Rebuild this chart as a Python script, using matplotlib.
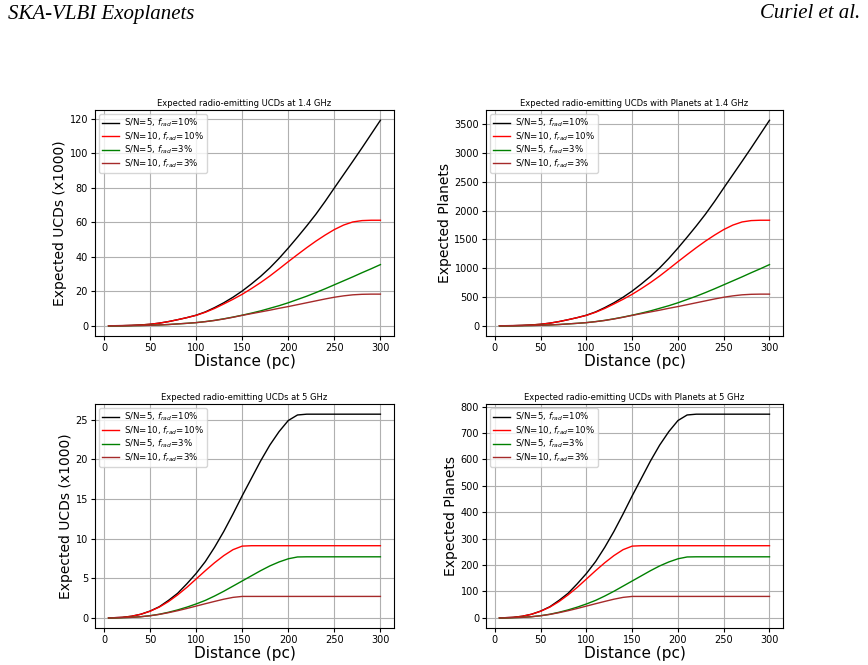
import matplotlib
matplotlib.use("Agg")
import matplotlib.pyplot as plt

distance = [5, 10, 20, 30, 40, 50, 60, 70, 80, 90, 100, 110, 120, 130, 140, 150,
            160, 170, 180, 190, 200, 210, 220, 230, 240, 250, 260, 270, 280, 290, 300]

# 1.4 GHz, UCDs (x1000)
ucd14_sn5_f10 = [0.0, 0.01, 0.06, 0.2, 0.45, 0.85, 1.5, 2.4, 3.5, 4.7, 6.1, 8.0, 10.5, 13.3, 16.5, 20.1,
                 24.2, 28.6, 33.5, 39.0, 45.0, 51.3, 57.8, 64.6, 72.0, 79.8, 87.5, 95.2, 103.0, 111.0, 119.0]
ucd14_sn10_f10 = [0.0, 0.01, 0.06, 0.2, 0.45, 0.85, 1.5, 2.4, 3.5, 4.7, 6.0, 7.8, 10.0, 12.6, 15.3, 18.2,
                  21.5, 25.0, 28.8, 32.9, 37.1, 41.2, 45.2, 49.0, 52.5, 55.7, 58.3, 60.1, 60.9, 61.1, 61.1]
ucd14_sn5_f3 = [0.0, 0.0, 0.02, 0.06, 0.14, 0.26, 0.45, 0.7, 1.05, 1.4, 1.8, 2.4, 3.1, 4.0, 5.0, 6.1,
                7.3, 8.6, 10.1, 11.6, 13.3, 15.2, 17.1, 19.2, 21.4, 23.7, 26.0, 28.3, 30.7, 33.0, 35.4]
ucd14_sn10_f3 = [0.0, 0.0, 0.02, 0.06, 0.14, 0.26, 0.45, 0.7, 1.05, 1.4, 1.8, 2.35, 3.05, 3.9, 4.9, 6.0,
                 7.0, 8.0, 9.0, 10.1, 11.1, 12.2, 13.3, 14.4, 15.5, 16.5, 17.3, 17.9, 18.2, 18.3, 18.3]

# 1.4 GHz, planets
pl14_sn5_f10 = [0, 0.3, 1.8, 6, 13.5, 25.5, 45, 72, 105, 141, 183, 240, 315, 399, 495, 603,
                726, 858, 1005, 1170, 1350, 1539, 1734, 1938, 2160, 2394, 2625, 2856, 3090, 3330, 3570]
pl14_sn10_f10 = [0, 0.3, 1.8, 6, 13.5, 25.5, 45, 72, 105, 141, 180, 234, 300, 378, 459, 546,
                 645, 750, 864, 987, 1113, 1236, 1356, 1470, 1575, 1671, 1749, 1803, 1827, 1833, 1833]
pl14_sn5_f3 = [0, 0, 0.6, 1.8, 4.2, 7.8, 13.5, 21, 31.5, 42, 54, 72, 93, 120, 150, 183,
               219, 258, 303, 348, 399, 456, 513, 576, 642, 711, 780, 849, 921, 990, 1062]
pl14_sn10_f3 = [0, 0, 0.6, 1.8, 4.2, 7.8, 13.5, 21, 31.5, 42, 54, 70.5, 91.5, 117, 147, 180,
                210, 240, 270, 303, 333, 366, 399, 432, 465, 495, 519, 537, 546, 549, 549]

# 5 GHz, UCDs (x1000)
ucd5_sn5_f10 = [0.0, 0.01, 0.06, 0.2, 0.45, 0.85, 1.4, 2.2, 3.1, 4.3, 5.6, 7.1, 8.9, 10.9, 13.1, 15.4,
                17.6, 19.8, 21.8, 23.5, 24.9, 25.6, 25.7, 25.7, 25.7, 25.7, 25.7, 25.7, 25.7, 25.7, 25.7]
ucd5_sn10_f10 = [0.0, 0.01, 0.06, 0.2, 0.45, 0.83, 1.35, 2.05, 2.9, 3.85, 4.9, 5.95, 6.95, 7.85, 8.6, 9.05,
                 9.1, 9.1, 9.1, 9.1, 9.1, 9.1, 9.1, 9.1, 9.1, 9.1, 9.1, 9.1, 9.1, 9.1, 9.1]
ucd5_sn5_f3 = [0.0, 0.0, 0.02, 0.06, 0.14, 0.27, 0.45, 0.7, 1.0, 1.35, 1.75, 2.2, 2.75, 3.35, 4.0, 4.65,
               5.3, 5.95, 6.55, 7.05, 7.45, 7.68, 7.7, 7.7, 7.7, 7.7, 7.7, 7.7, 7.7, 7.7, 7.7]
ucd5_sn10_f3 = [0.0, 0.0, 0.02, 0.06, 0.14, 0.26, 0.43, 0.65, 0.9, 1.18, 1.48, 1.78, 2.07, 2.35, 2.58, 2.7,
                2.7, 2.7, 2.7, 2.7, 2.7, 2.7, 2.7, 2.7, 2.7, 2.7, 2.7, 2.7, 2.7, 2.7, 2.7]

# 5 GHz, planets
pl5_sn5_f10 = [0, 0.3, 1.8, 6, 13.5, 25.5, 42, 66, 93, 129, 168, 213, 267, 327, 393, 462,
               528, 594, 654, 705, 747, 768, 771, 771, 771, 771, 771, 771, 771, 771, 771]
pl5_sn10_f10 = [0, 0.3, 1.8, 6, 13.5, 24.9, 40.5, 61.5, 87, 115.5, 147, 178.5, 208.5, 235.5, 258, 271.5,
                273, 273, 273, 273, 273, 273, 273, 273, 273, 273, 273, 273, 273, 273, 273]
pl5_sn5_f3 = [0, 0, 0.6, 1.8, 4.2, 8.1, 13.5, 21, 30, 40.5, 52.5, 66, 82.5, 100.5, 120, 139.5,
              159, 178.5, 196.5, 211.5, 223.5, 230.4, 231, 231, 231, 231, 231, 231, 231, 231, 231]
pl5_sn10_f3 = [0, 0, 0.6, 1.8, 4.2, 7.8, 12.9, 19.5, 27, 35.4, 44.4, 53.4, 62.1, 70.5, 77.4, 81,
               81, 81, 81, 81, 81, 81, 81, 81, 81, 81, 81, 81, 81, 81, 81]

labels = [r'S/N=5, $f_{rad}$=10%', r'S/N=10, $f_{rad}$=10%',
          r'S/N=5, $f_{rad}$=3%', r'S/N=10, $f_{rad}$=3%']
colors = ['black', 'red', 'green', 'brown']

panels = [
    ("Expected radio-emitting UCDs at 1.4 GHz", "Expected UCDs (x1000)",
     [ucd14_sn5_f10, ucd14_sn10_f10, ucd14_sn5_f3, ucd14_sn10_f3], 20),
    ("Expected radio-emitting UCDs with Planets at 1.4 GHz", "Expected Planets",
     [pl14_sn5_f10, pl14_sn10_f10, pl14_sn5_f3, pl14_sn10_f3], 500),
    ("Expected radio-emitting UCDs at 5 GHz", "Expected UCDs (x1000)",
     [ucd5_sn5_f10, ucd5_sn10_f10, ucd5_sn5_f3, ucd5_sn10_f3], 5),
    ("Expected radio-emitting UCDs with Planets at 5 GHz", "Expected Planets",
     [pl5_sn5_f10, pl5_sn10_f10, pl5_sn5_f3, pl5_sn10_f3], 100),
]

W, H = 868, 665
fig = plt.figure(figsize=(W / 100, H / 100), dpi=100)

boxes = [(95, 110, 394, 336), (486, 110, 783, 336),
         (95, 404, 394, 628), (486, 404, 783, 628)]

for (title, ylabel, series, ystep), (l, t, r, b) in zip(panels, boxes):
    ax = fig.add_axes([l / W, 1 - b / H, (r - l) / W, (b - t) / H])
    for ys, c, lab in zip(series, colors, labels):
        ax.plot(distance, ys, color=c, lw=1.0, label=lab)
    ax.set_title(title, fontsize=6.0, pad=3)
    ax.set_ylabel(ylabel, fontsize=10, labelpad=2)
    ax.set_xlabel("Distance (pc)", fontsize=11, labelpad=1)
    ax.set_xticks([0, 50, 100, 150, 200, 250, 300])
    ax.yaxis.set_major_locator(matplotlib.ticker.MultipleLocator(ystep))
    ax.tick_params(labelsize=7, length=3, pad=2)
    ax.grid(True, color='#b0b0b0', lw=0.8)
    ax.legend(loc='upper left', fontsize=6.2, handlelength=2.0, borderpad=0.3,
              labelspacing=0.12, handletextpad=0.6, framealpha=0.8)

fig.text(8 / W, 1 - 14 / H, "SKA-VLBI Exoplanets", fontsize=15, style='italic',
         family='Liberation Serif', va='center', ha='left')
fig.text(860 / W, 1 - 14 / H, "Curiel et al.", fontsize=15, style='italic',
         family='Liberation Serif', va='center', ha='right')

fig.savefig("out.png", dpi=100)
